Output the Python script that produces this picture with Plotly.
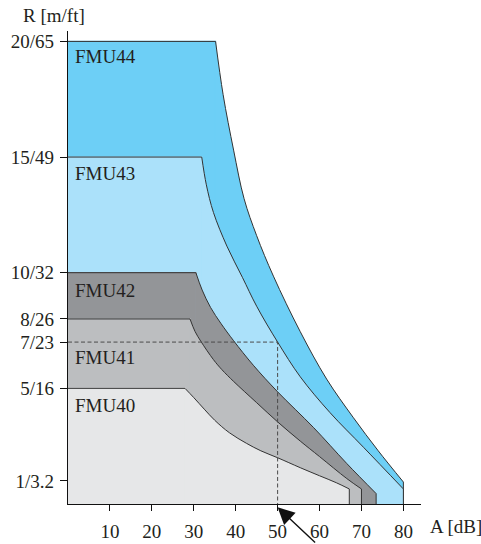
import plotly.graph_objects as go

# Ultrasonic sensor range R versus attenuation A for the FMU4x series
models = ["FMU44", "FMU43", "FMU42", "FMU41", "FMU40"]
fill_colors = ["#6dcff6", "#abe1fa", "#939598", "#bcbec0", "#e6e7e8"]

# Upper boundary of each range region, from the knee to the end point (A in dB, R in m)
fmu44_a = [35.2, 37.0, 39.5, 42.0, 45.0, 49.0, 55.4, 61.7, 68.0, 74.0, 80.0]
fmu44_r = [20.0, 17.7, 15.3, 13.2, 11.6, 9.85, 7.45, 5.4, 3.75, 2.3, 0.95]

fmu43_a = [31.9, 33.0, 34.7, 37.9, 41.6, 45.0, 50.0, 55.4, 62.5, 70.5, 80.0]
fmu43_r = [15.0, 13.8, 12.6, 11.15, 9.8, 8.55, 7.0, 5.5, 3.95, 2.45, 0.65]

fmu42_a = [30.5, 32.0, 34.0, 36.5, 39.5, 44.2, 50.0, 58.6, 66.5, 73.5]
fmu42_r = [10.0, 9.25, 8.5, 7.8, 7.06, 6.0, 4.85, 3.3, 1.75, 0.45]

fmu41_a = [29.1, 30.3, 31.7, 34.7, 36.7, 39.5, 45.0, 50.0, 55.4, 60.0, 66.5, 70.0]
fmu41_r = [8.0, 7.46, 7.03, 6.24, 5.81, 5.3, 4.38, 3.55, 2.72, 2.05, 1.1, 0.65]

fmu40_a = [27.9, 30.0, 32.5, 35.0, 38.5, 42.6, 46.0, 50.0, 55.4, 60.0, 64.0, 67.1]
fmu40_r = [5.0, 4.6, 4.1, 3.62, 3.08, 2.62, 2.3, 2.0, 1.57, 1.22, 0.92, 0.65]

boundaries = [
    (fmu44_a, fmu44_r),
    (fmu43_a, fmu43_r),
    (fmu42_a, fmu42_r),
    (fmu41_a, fmu41_r),
    (fmu40_a, fmu40_r),
]

# Label positions inside each region (A, R)
label_a = [1.2, 1.2, 1.2, 1.2, 1.2]
label_r = [19.35, 14.3, 9.22, 6.35, 4.26]

# Worked example: attenuation 50 dB -> range 7 m
example_a = 50
example_r = 7

# Axis ticks
x_ticks = [10, 20, 30, 40, 50, 60, 70, 80]
y_ticks = [1, 5, 7, 8, 10, 15, 20]
y_tick_text = ["1/3.2", "5/16", "7/23", "8/26", "10/32", "15/49", "20/65"]

FONT = "Liberation Serif"
TEXT = "#231f20"
EDGE = "#333333"

fig = go.Figure()


def line_trace(x, y, **kw):
    return go.Scatter(x=x, y=y, mode="lines", hoverinfo="skip",
                      showlegend=False, **kw)


for (a, r), color in zip(boundaries, fill_colors):
    top = r[0]
    knee = a[0]
    end_a, end_r = a[-1], r[-1]
    # flat part of the region (stroked in its own colour so it joins the
    # curved part without a visible seam)
    fig.add_trace(line_trace(
        [0, 0, knee, knee], [0, top, top, 0],
        fill="toself", fillcolor=color, line=dict(color=color, width=1.2),
    ))
    # falling part, smoothed, filled down to the A axis
    fig.add_trace(line_trace(
        a, r, fill="tozeroy", fillcolor=color,
        line=dict(color=EDGE, width=1, shape="spline", smoothing=1),
    ))
    # flat top edge and final drop to the axis
    fig.add_trace(line_trace([0, knee], [top, top], line=dict(color=EDGE, width=1)))
    fig.add_trace(line_trace([end_a, end_a], [end_r, 0], line=dict(color=EDGE, width=1)))

# dashed reading line for the example
fig.add_trace(line_trace(
    [0, example_a, example_a], [example_r, example_r, 0],
    line=dict(color="#4a4a4a", width=1, dash="4px,2.5px"),
))

for name, xa, yr in zip(models, label_a, label_r):
    fig.add_annotation(
        x=xa, y=yr, text=name, showarrow=False,
        xanchor="left", yanchor="middle",
        font=dict(family=FONT, size=19, color=TEXT),
    )

# axis titles
fig.add_annotation(
    xref="paper", yref="paper", x=-0.04, y=1.032, text="R [m/ft]",
    showarrow=False, xanchor="center", yanchor="middle",
    font=dict(family=FONT, size=19, color=TEXT),
)
fig.add_annotation(
    xref="paper", yref="paper", x=1.02, y=-0.048, text="A [dB]",
    showarrow=False, xanchor="left", yanchor="middle",
    font=dict(family=FONT, size=19, color=TEXT),
)

# arrow pointing at the example attenuation
fig.add_annotation(
    x=example_a, xref="x", y=-0.007, yref="paper",
    ax=39, ay=37, text="", showarrow=True,
    arrowhead=2, arrowsize=2.4, arrowwidth=1.4, arrowcolor="#111111",
    standoff=0,
)

fig.update_xaxes(
    range=[0, 84.2], tickvals=x_ticks, ticks="outside", ticklen=6,
    tickcolor="#111111", tickwidth=1, showline=True, linecolor="#111111",
    linewidth=1.3, showgrid=False, zeroline=False, automargin=False,
    tickfont=dict(family=FONT, size=19, color=TEXT), ticklabelstandoff=4,
)
fig.update_yaxes(
    range=[0, 20.45], tickvals=y_ticks, ticktext=y_tick_text,
    ticks="outside", ticklen=7, tickcolor="#111111", tickwidth=1,
    showline=True, linecolor="#111111", linewidth=1.3,
    showgrid=False, zeroline=False, automargin=False,
    tickfont=dict(family=FONT, size=19, color=TEXT), ticklabelstandoff=2,
)

fig.update_layout(
    width=481, height=544,
    margin=dict(l=68, r=60, t=31, b=40),
    plot_bgcolor="white", paper_bgcolor="white",
    showlegend=False,
)

fig.write_html("out.html")
